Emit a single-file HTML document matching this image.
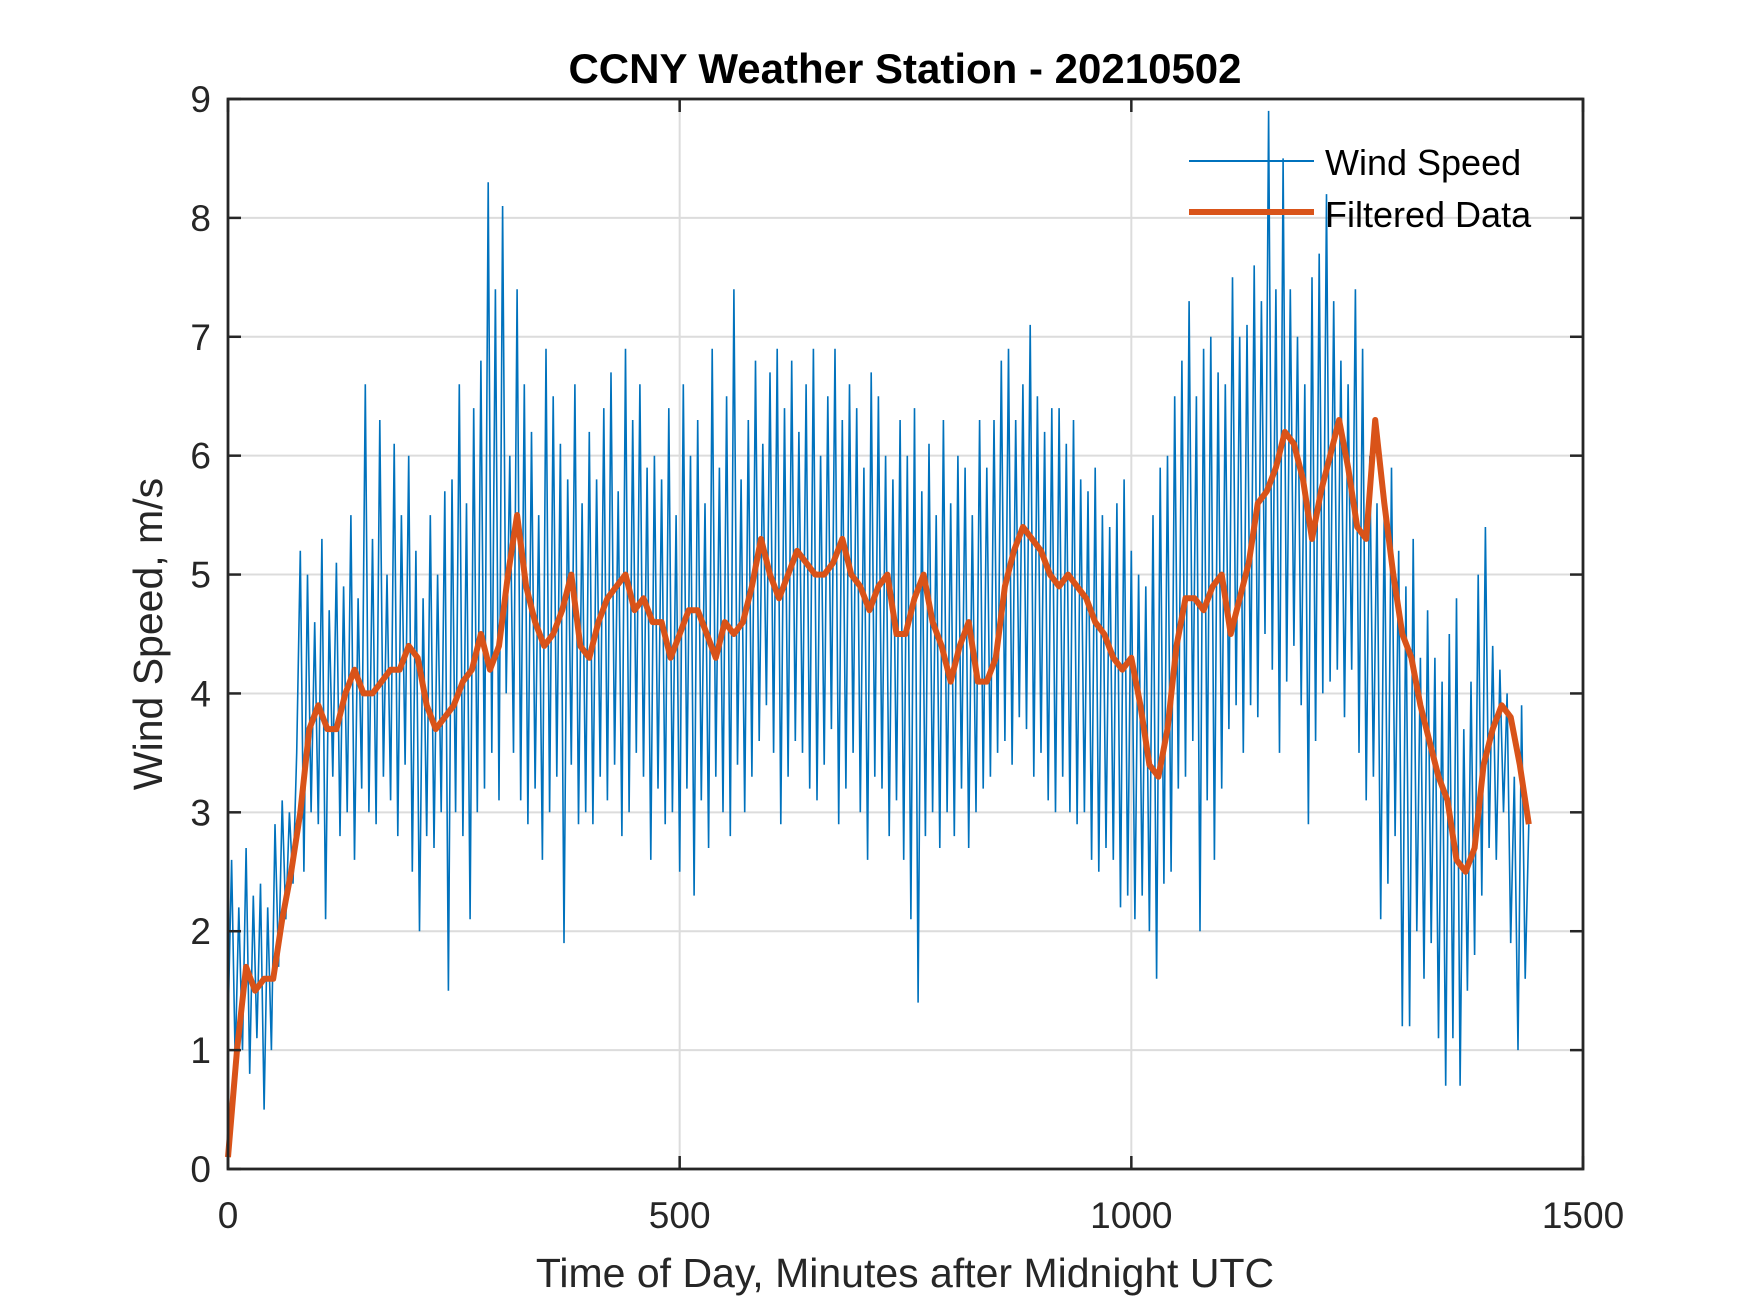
<!DOCTYPE html>
<html><head><meta charset="utf-8"><style>
html,body{margin:0;padding:0;background:#fff;}
svg{display:block;font-family:"Liberation Sans",Arial,sans-serif;}
</style></head><body>
<svg id="chart" width="1750" height="1313" viewBox="0 0 1750 1313" xmlns="http://www.w3.org/2000/svg">
<rect width="1750" height="1313" fill="#fff"/>
<g id="grid"></g>
<g id="series"></g>
<g id="axes"></g>
<text x="905" y="83" text-anchor="middle" font-size="42" font-weight="bold" fill="#000">CCNY Weather Station - 20210502</text>
<text x="905" y="1287" text-anchor="middle" font-size="41" fill="#262626">Time of Day, Minutes after Midnight UTC</text>
<text transform="translate(162,634) rotate(-90)" text-anchor="middle" font-size="41" fill="#262626">Wind Speed, m/s</text>
<g>
<line x1="1189" y1="161" x2="1314" y2="161" stroke="#0072BD" stroke-width="2"/>
<text x="1325" y="175" font-size="36" fill="#000">Wind Speed</text>
<line x1="1189" y1="212" x2="1314" y2="212" stroke="#D95319" stroke-width="6"/>
<text x="1325" y="227" font-size="36" fill="#000">Filtered Data</text>
</g>
</svg>
<script>
const xTicks=[0,500,1000,1500];
const yTicks=[0,1,2,3,4,5,6,7,8,9];
const rawStep=4;
const windSpeed=[
1.2,2.6,0.9,2.2,1.0,2.7,0.8,2.3,1.1,2.4,
0.5,2.2,1.0,2.9,1.7,3.1,2.1,3.0,2.4,3.5,
5.2,2.5,5.0,3.0,4.6,2.9,5.3,2.1,4.7,3.3,
5.1,2.8,4.9,3.0,5.5,2.6,4.8,3.2,6.6,3.0,
5.3,2.9,6.3,3.3,5.0,3.1,6.1,2.8,5.5,3.4,
6.0,2.5,5.2,2.0,4.8,2.8,5.5,2.7,5.0,3.0,
5.7,1.5,5.8,3.0,6.6,2.8,5.6,2.1,6.4,3.0,
6.8,3.2,8.3,3.5,7.4,3.1,8.1,4.0,6.0,3.5,
7.4,3.1,6.6,2.9,6.2,3.2,5.5,2.6,6.9,3.0,
6.5,3.3,6.1,1.9,5.8,3.4,6.6,2.9,5.6,3.0,
6.2,2.9,5.8,3.3,6.4,3.1,6.7,3.4,5.7,2.8,
6.9,3.0,6.3,3.5,6.6,3.3,5.9,2.6,6.0,3.2,
5.8,2.9,6.4,3.0,5.5,2.5,6.6,3.2,6.0,2.3,
6.3,3.1,5.6,2.7,6.9,3.3,5.9,3.0,6.5,2.8,
7.4,3.4,5.8,3.0,6.3,3.3,6.8,3.6,6.1,3.9,
6.7,3.5,6.9,2.9,6.4,3.3,6.8,3.6,6.2,3.5,
6.6,3.2,6.9,3.1,6.0,3.4,6.5,3.7,6.9,2.9,
6.3,3.2,6.6,3.5,6.4,3.0,5.9,2.6,6.7,3.3,
6.5,3.2,6.0,2.8,5.8,3.1,6.3,2.6,6.0,2.1,
6.4,1.4,5.7,2.8,6.1,3.0,5.5,2.7,6.3,3.0,
5.6,2.8,6.0,3.2,5.9,2.7,5.5,3.0,6.3,3.2,
5.9,3.3,6.3,3.5,6.8,3.6,6.9,3.4,6.3,3.8,
6.6,3.7,7.1,3.3,6.5,3.5,6.2,3.1,6.4,3.0,
6.4,3.3,6.1,3.0,6.3,2.9,5.8,3.0,5.7,2.6,
5.9,2.5,5.5,2.7,5.4,2.6,5.6,2.2,5.8,2.3,
5.2,2.1,5.0,2.3,4.9,2.0,5.5,1.6,5.9,2.4,
6.0,2.5,6.5,3.2,6.8,3.3,7.3,3.6,6.5,2.0,
6.9,3.1,7.0,2.6,6.7,3.2,6.6,3.7,7.5,3.9,
7.0,3.5,7.1,3.9,7.6,3.8,7.3,4.5,8.9,4.2,
7.4,3.5,8.5,4.1,7.4,4.4,7.0,3.9,6.6,2.9,
7.5,3.6,7.7,4.0,8.2,4.1,7.3,4.2,6.8,3.8,
6.6,4.2,7.4,3.5,6.9,3.1,6.0,3.3,5.6,2.1,
5.6,2.4,5.9,2.8,5.2,1.2,4.9,1.2,5.3,2.0,
4.3,1.6,4.7,1.9,4.3,1.1,4.1,0.7,4.5,1.1,
4.8,0.7,3.7,1.5,4.1,1.8,5.0,2.3,5.4,2.7,
4.4,2.6,4.2,3.0,4.0,1.9,3.3,1.0,3.9,1.6,
2.9];
const filtStep=10;
const filtered=[
0.1,1.0,1.7,1.5,1.6,1.6,2.1,2.5,3.0,3.7,
3.9,3.7,3.7,4.0,4.2,4.0,4.0,4.1,4.2,4.2,
4.4,4.3,3.9,3.7,3.8,3.9,4.1,4.2,4.5,4.2,
4.4,5.0,5.5,4.9,4.6,4.4,4.5,4.7,5.0,4.4,
4.3,4.6,4.8,4.9,5.0,4.7,4.8,4.6,4.6,4.3,
4.5,4.7,4.7,4.5,4.3,4.6,4.5,4.6,4.9,5.3,
5.0,4.8,5.0,5.2,5.1,5.0,5.0,5.1,5.3,5.0,
4.9,4.7,4.9,5.0,4.5,4.5,4.8,5.0,4.6,4.4,
4.1,4.4,4.6,4.1,4.1,4.3,4.9,5.2,5.4,5.3,
5.2,5.0,4.9,5.0,4.9,4.8,4.6,4.5,4.3,4.2,
4.3,3.9,3.4,3.3,3.7,4.4,4.8,4.8,4.7,4.9,
5.0,4.5,4.8,5.1,5.6,5.7,5.9,6.2,6.1,5.8,
5.3,5.7,6.0,6.3,5.9,5.4,5.3,6.3,5.6,5.0,
4.5,4.3,3.9,3.6,3.3,3.1,2.6,2.5,2.7,3.4,
3.7,3.9,3.8,3.4,2.9];

const L=228,R=1583,T=99,B=1169;
const xScale=v=>L+(v-0)/(1500-0)*(R-L);
const yScale=v=>B-(v-0)/(9-0)*(B-T);
const NS="http://www.w3.org/2000/svg";
function mk(tag,attrs,parent){const e=document.createElementNS(NS,tag);for(const k in attrs)e.setAttribute(k,attrs[k]);parent.appendChild(e);return e;}
const grid=document.getElementById('grid'),axes=document.getElementById('axes'),series=document.getElementById('series');
xTicks.forEach(t=>{
 const x=xScale(t);
 if(t>0&&t<1500){const g=mk('line',{x1:x,y1:T,x2:x,y2:B,stroke:'#dcdcdc','stroke-width':2},grid);
 
 }
 const tk=mk('line',{x1:x,y1:B,x2:x,y2:B-13,stroke:'#262626','stroke-width':2.5},axes);
 
 
 const tk2=mk('line',{x1:x,y1:T,x2:x,y2:T+13,stroke:'#262626','stroke-width':2.5},axes);
 
 
 const lb=mk('text',{x:x,y:1228,'text-anchor':'middle','font-size':37,fill:'#262626'},axes);
 lb.textContent=t;
 
 
});
yTicks.forEach(t=>{
 const y=yScale(t);
 if(t>0&&t<9){const g=mk('line',{x1:L,y1:y,x2:R,y2:y,stroke:'#dcdcdc','stroke-width':2},grid);
 
 }
 const tk=mk('line',{x1:L,y1:y,x2:L+13,y2:y,stroke:'#262626','stroke-width':2.5},axes);
 
 
 const tk2=mk('line',{x1:R,y1:y,x2:R-13,y2:y,stroke:'#262626','stroke-width':2.5},axes);
 
 
 const lb=mk('text',{x:211,y:y+13,'text-anchor':'end','font-size':37,fill:'#262626'},axes);
 lb.textContent=t;
 
 
});
const box=mk('rect',{x:L,y:T,width:R-L,height:B-T,fill:'none',stroke:'#262626','stroke-width':2.8},axes);


const rawPts=windSpeed.map((v,i)=>xScale(i*rawStep).toFixed(1)+','+yScale(v).toFixed(1)).join(' ');
const p1=mk('polyline',{points:rawPts,fill:'none',stroke:'#0072BD','stroke-width':1.6,'stroke-linejoin':'miter'},series);


const fPts=filtered.map((v,i)=>xScale(i*filtStep).toFixed(1)+','+yScale(v).toFixed(1)).join(' ');
const p2=mk('polyline',{points:fPts,fill:'none',stroke:'#D95319','stroke-width':6,'stroke-linejoin':'round'},series);


</script>
</body></html>
